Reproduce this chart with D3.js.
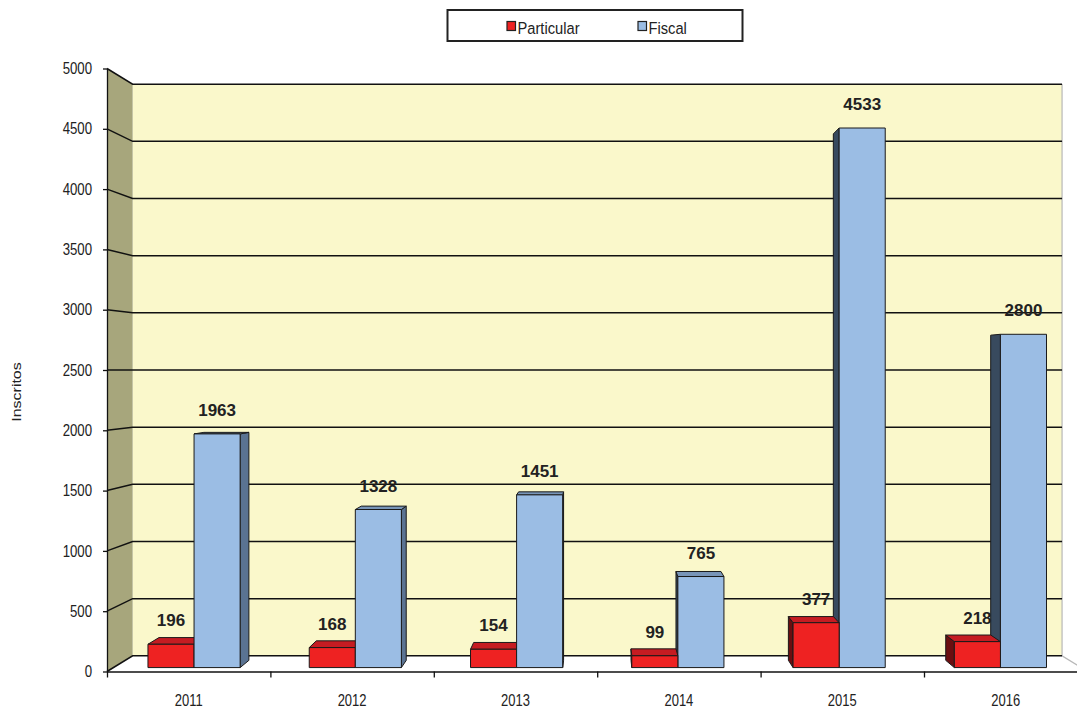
<!DOCTYPE html>
<html>
<head>
<meta charset="utf-8">
<script src="https://cdn.jsdelivr.net/npm/d3@7"></script>
<style>
  html, body { margin: 0; padding: 0; background: #ffffff; }
  svg { display: block; font-family: "Liberation Sans", Arial, sans-serif; }
</style>
</head>
<body>
<svg id="chart" width="1077" height="709"></svg>
<script>
// ---- data ----
const categories = ["2011", "2012", "2013", "2014", "2015", "2016"];
const seriesNames = ["Particular", "Fiscal"];
const particular = [196, 168, 154, 99, 377, 218];
const fiscal = [1963, 1328, 1451, 765, 4533, 2800];
const yTicks = [0, 500, 1000, 1500, 2000, 2500, 3000, 3500, 4000, 4500, 5000];
const yTitle = "Inscritos";

// ---- layout / style ----
const W = 1077, H = 709;
const X0 = 107, STEP = 163.4;
const VP = [600, 370];          // vanishing point of the perspective
const S_WALL = 0.948;           // depth scale of the back wall
const S_FRONT = 0.987, S_BACK = 0.963; // depth scale of bar faces
const colors = {
  Particular: { front: "#ee2222", top: "#c51c22", left: "#6b0e10", right: "#8a1414" },
  Fiscal:     { front: "#9bbde4", top: "#7895b8", left: "#384a5e", right: "#5a7392" }
};

const svg = d3.select("#chart");

const x = d3.scaleBand().domain(categories).range([X0, X0 + STEP * categories.length]).padding(0);
const xs = d3.scaleBand().domain(seriesNames).range([0, x.bandwidth()]).paddingInner(0).paddingOuter(0.75);
const y = d3.scaleLinear().domain([0, 5000]).range([671.5, 68.5]);

const X1 = X0 + STEP * categories.length;
const proj = (X, Y, s) => [VP[0] + (X - VP[0]) * s, VP[1] + (Y - VP[1]) * s];
const line = d3.line();
const poly = pts => line(pts) + "Z";

// ---- walls ----
const gWalls = svg.append("g");
gWalls.append("path")
  .attr("d", poly([proj(X0, y(5000), S_WALL), proj(X1, y(5000), S_WALL), proj(X1, y(0), S_WALL), proj(X0, y(0), S_WALL)]))
  .attr("fill", "#faf8cb");
gWalls.append("path")
  .attr("d", poly([proj(X0, y(5000), 1), proj(X0, y(5000), S_WALL), proj(X0, y(0), S_WALL), proj(X0, y(0), 1)]))
  .attr("fill", "#a7a67c");
gWalls.append("path")
  .attr("d", poly([proj(X0, y(0), 1), proj(X1, y(0), 1), proj(X1, y(0), S_WALL), proj(X0, y(0), S_WALL)]))
  .attr("fill", "#ffffff");
gWalls.append("path")
  .attr("d", line([proj(X1, y(5000), S_WALL), proj(X1, y(0), S_WALL), proj(X1, y(0), 1)]))
  .attr("fill", "none").attr("stroke", "#b8b8b8").attr("stroke-width", 1.2);

gWalls.selectAll("path.grid").data(yTicks).join("path")
  .attr("class", "grid")
  .attr("d", t => line([proj(X0, y(t), 1), proj(X0, y(t), S_WALL), proj(X1, y(t), S_WALL)]))
  .attr("fill", "none").attr("stroke", "#111").attr("stroke-width", 1.5);

// ---- bars ----
const bars = [];
categories.forEach((c, i) => {
  [["Particular", particular[i]], ["Fiscal", fiscal[i]]].forEach(([s, v]) => {
    const xl = x(c) + xs(s), xr = xl + xs.bandwidth();
    bars.push({ cat: c, series: s, value: v, xl, xr, yt: y(v), yb: y(0) });
  });
});
const distVP = b => Math.min(Math.abs(b.xl - VP[0]), Math.abs(b.xr - VP[0]));
bars.sort((a, b) => distVP(b) - distVP(a));

const gBars = svg.append("g");
bars.forEach(b => {
  const g = gBars.append("g");
  const col = colors[b.series];
  const face = (pts, fill) => g.append("path").attr("d", poly(pts)).attr("fill", fill)
    .attr("stroke", "#1a1a1a").attr("stroke-width", 1).attr("stroke-linejoin", "round");
  if (b.xl > VP[0]) face([proj(b.xl, b.yt, S_FRONT), proj(b.xl, b.yt, S_BACK), proj(b.xl, b.yb, S_BACK), proj(b.xl, b.yb, S_FRONT)], col.left);
  if (b.xr < VP[0]) face([proj(b.xr, b.yt, S_FRONT), proj(b.xr, b.yt, S_BACK), proj(b.xr, b.yb, S_BACK), proj(b.xr, b.yb, S_FRONT)], col.right);
  if (b.yt > VP[1]) face([proj(b.xl, b.yt, S_FRONT), proj(b.xr, b.yt, S_FRONT), proj(b.xr, b.yt, S_BACK), proj(b.xl, b.yt, S_BACK)], col.top);
  face([proj(b.xl, b.yt, S_FRONT), proj(b.xr, b.yt, S_FRONT), proj(b.xr, b.yb, S_FRONT), proj(b.xl, b.yb, S_FRONT)], col.front);
});

// ---- value labels ----
svg.append("g").selectAll("text").data(bars).join("text")
  .attr("transform", b => {
    const p = proj((b.xl + b.xr) / 2, b.yt, S_FRONT);
    return `translate(${p[0]},${p[1] - 24})`;
  })
  .attr("text-anchor", "middle").attr("dy", "0.36em")
  .attr("font-size", 17).attr("font-weight", "bold").attr("fill", "#222")
  .text(b => b.value);

// ---- axes ----
const yAxis = d3.axisLeft(y).tickValues(yTicks).tickFormat(d3.format("d"))
  .tickSize(4).tickSizeOuter(0).tickPadding(11);
const gY = svg.append("g").attr("transform", `translate(${X0},0)`).call(yAxis);
gY.select(".domain").attr("stroke", "#111").attr("stroke-width", 1.3);
gY.selectAll(".tick line").attr("stroke", "#111").attr("stroke-width", 1.3);
gY.selectAll(".tick text").attr("font-size", 13.2).attr("fill", "#222")
  .attr("font-family", "'Liberation Sans', Arial, sans-serif")
  .attr("transform", "scale(1,1.22)");

const xB = d3.scaleLinear().domain([0, categories.length]).range([X0, X1]);
const xAxis = d3.axisBottom(xB).tickValues(d3.range(0, categories.length + 1)).tickSize(6).tickSizeOuter(0).tickFormat("");
const gX = svg.append("g").attr("transform", `translate(0,${y(0)})`).call(xAxis);
gX.select(".domain").attr("stroke", "#111").attr("stroke-width", 1.3);
gX.selectAll(".tick line").attr("stroke", "#111").attr("stroke-width", 1.3);

svg.append("g").selectAll("text").data(categories).join("text")
  .attr("transform", c => `translate(${x(c) + x.bandwidth() / 2},700) scale(1,1.25)`)
  .attr("text-anchor", "middle").attr("dy", "0.36em")
  .attr("font-size", 13).attr("fill", "#222")
  .text(c => c);

// ---- y title ----
svg.append("text")
  .attr("transform", "translate(16.5,392) rotate(-90) scale(1.28,1)")
  .attr("text-anchor", "middle").attr("dy", "0.36em")
  .attr("font-size", 12.5).attr("fill", "#222")
  .text(yTitle);

// ---- legend ----
const gL = svg.append("g");
gL.append("rect").attr("x", 447.5).attr("y", 10).attr("width", 295).attr("height", 31)
  .attr("fill", "#fff").attr("stroke", "#222").attr("stroke-width", 2);
const legendX = { Particular: 507, Fiscal: 638 };
seriesNames.forEach(s => {
  gL.append("rect").attr("x", legendX[s]).attr("y", 21.5).attr("width", 8.5).attr("height", 9)
    .attr("fill", colors[s].front).attr("stroke", "#222").attr("stroke-width", 1.2);
  gL.append("text").attr("transform", `translate(${legendX[s] + 10.5},34) scale(1,1.18)`)
    .attr("font-size", 14.7).attr("fill", "#222").text(s);
});
</script>
</body>
</html>
